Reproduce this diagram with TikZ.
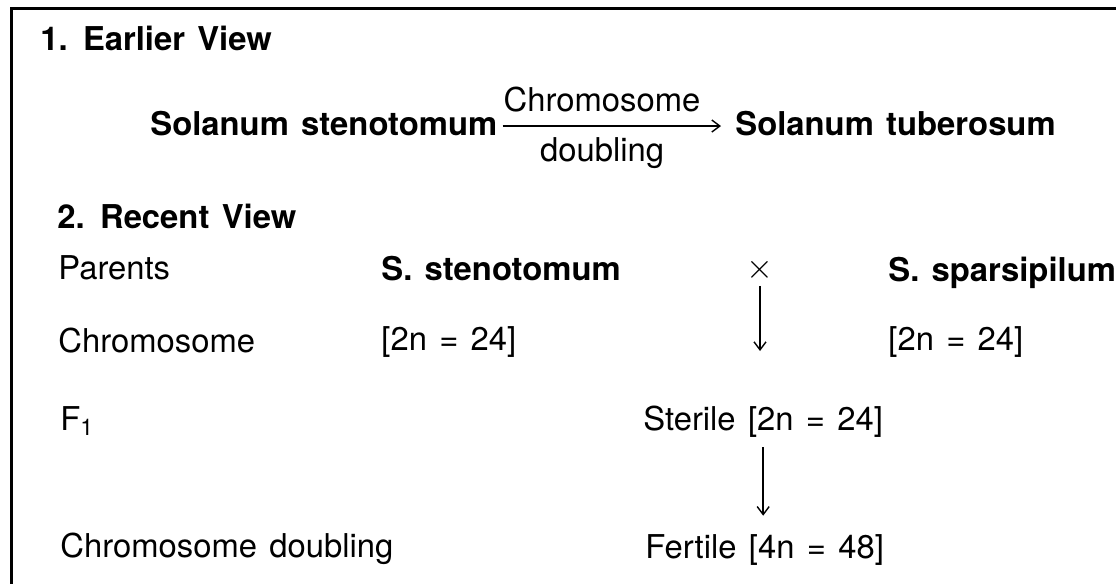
\documentclass[tikz,border=0pt]{standalone}
\usepackage{fontspec}
\setmainfont{TeX Gyre Heros}[WordSpace=1.35]
\usetikzlibrary{arrows.meta}
\begin{document}
\begin{tikzpicture}[
        x=0.5pt, y=-0.5pt,
        every node/.style={inner sep=0pt, anchor=base west, font=\fontsize{16.4}{19}\selectfont},
        head/.style={font=\fontsize{16.4}{19}\selectfont\bfseries},
        arr/.style={-{Straight Barb[length=4pt, width=6pt]}, line width=0.7pt},
        frame/.style={line width=1.5pt},
    ]
    \useasboundingbox (0,0) rectangle (1116,584);
    \draw[frame] (1116,8) -- (11,8) -- (11,584);

    % earlier view
    \node[head](earlier) at (40,50){1. Earlier View};
    \node[head](stenA) at (150,135){Solanum stenotomum};
    \node[head](tuber) at (735,135){Solanum tuberosum};
    \draw[arr, shorten <=2.5pt, shorten >=7pt] ([yshift=-1.5pt]stenA.east) -- ([yshift=-1.5pt]tuber.west)
        node[pos=0.44, above=6.5pt](chrA){Chromosome}
        node[pos=0.44, below=5.5pt](dblA){doubling};

    % recent view
    \node[head](recent) at (57,228){2. Recent View};
    \node[](parents) at (58,279){Parents};
    \node[head](stenB) at (381,280){S. stenotomum};
    \node[head](spars) at (888,281){S. sparsipilum};
    \node[anchor=center, font=\fontsize{17}{19}\selectfont](cross) at (760,270){$\times$};
    \coordinate (crossend) at (760,351);
    \draw[arr, shorten <=2pt] (cross) -- (crossend);

    \node[](chrB) at (58,352){Chromosome};
    \node[](nA) at (381,350){[2n = 24]};
    \node[](nB) at (888,350){[2n = 24]};

    \node[](f1) at (60,430){F\textsubscript{1}};
    \node[](sterile) at (643,430){Sterile [2n = 24]};

    \node[](dblB) at (60,557){Chromosome doubling};
    \node[](fertile) at (645,558){Fertile [4n = 48]};
    \draw[arr, shorten <=5pt, shorten >=9pt] (sterile.south) -- (sterile.south |- fertile.north);
\end{tikzpicture}
\end{document}
